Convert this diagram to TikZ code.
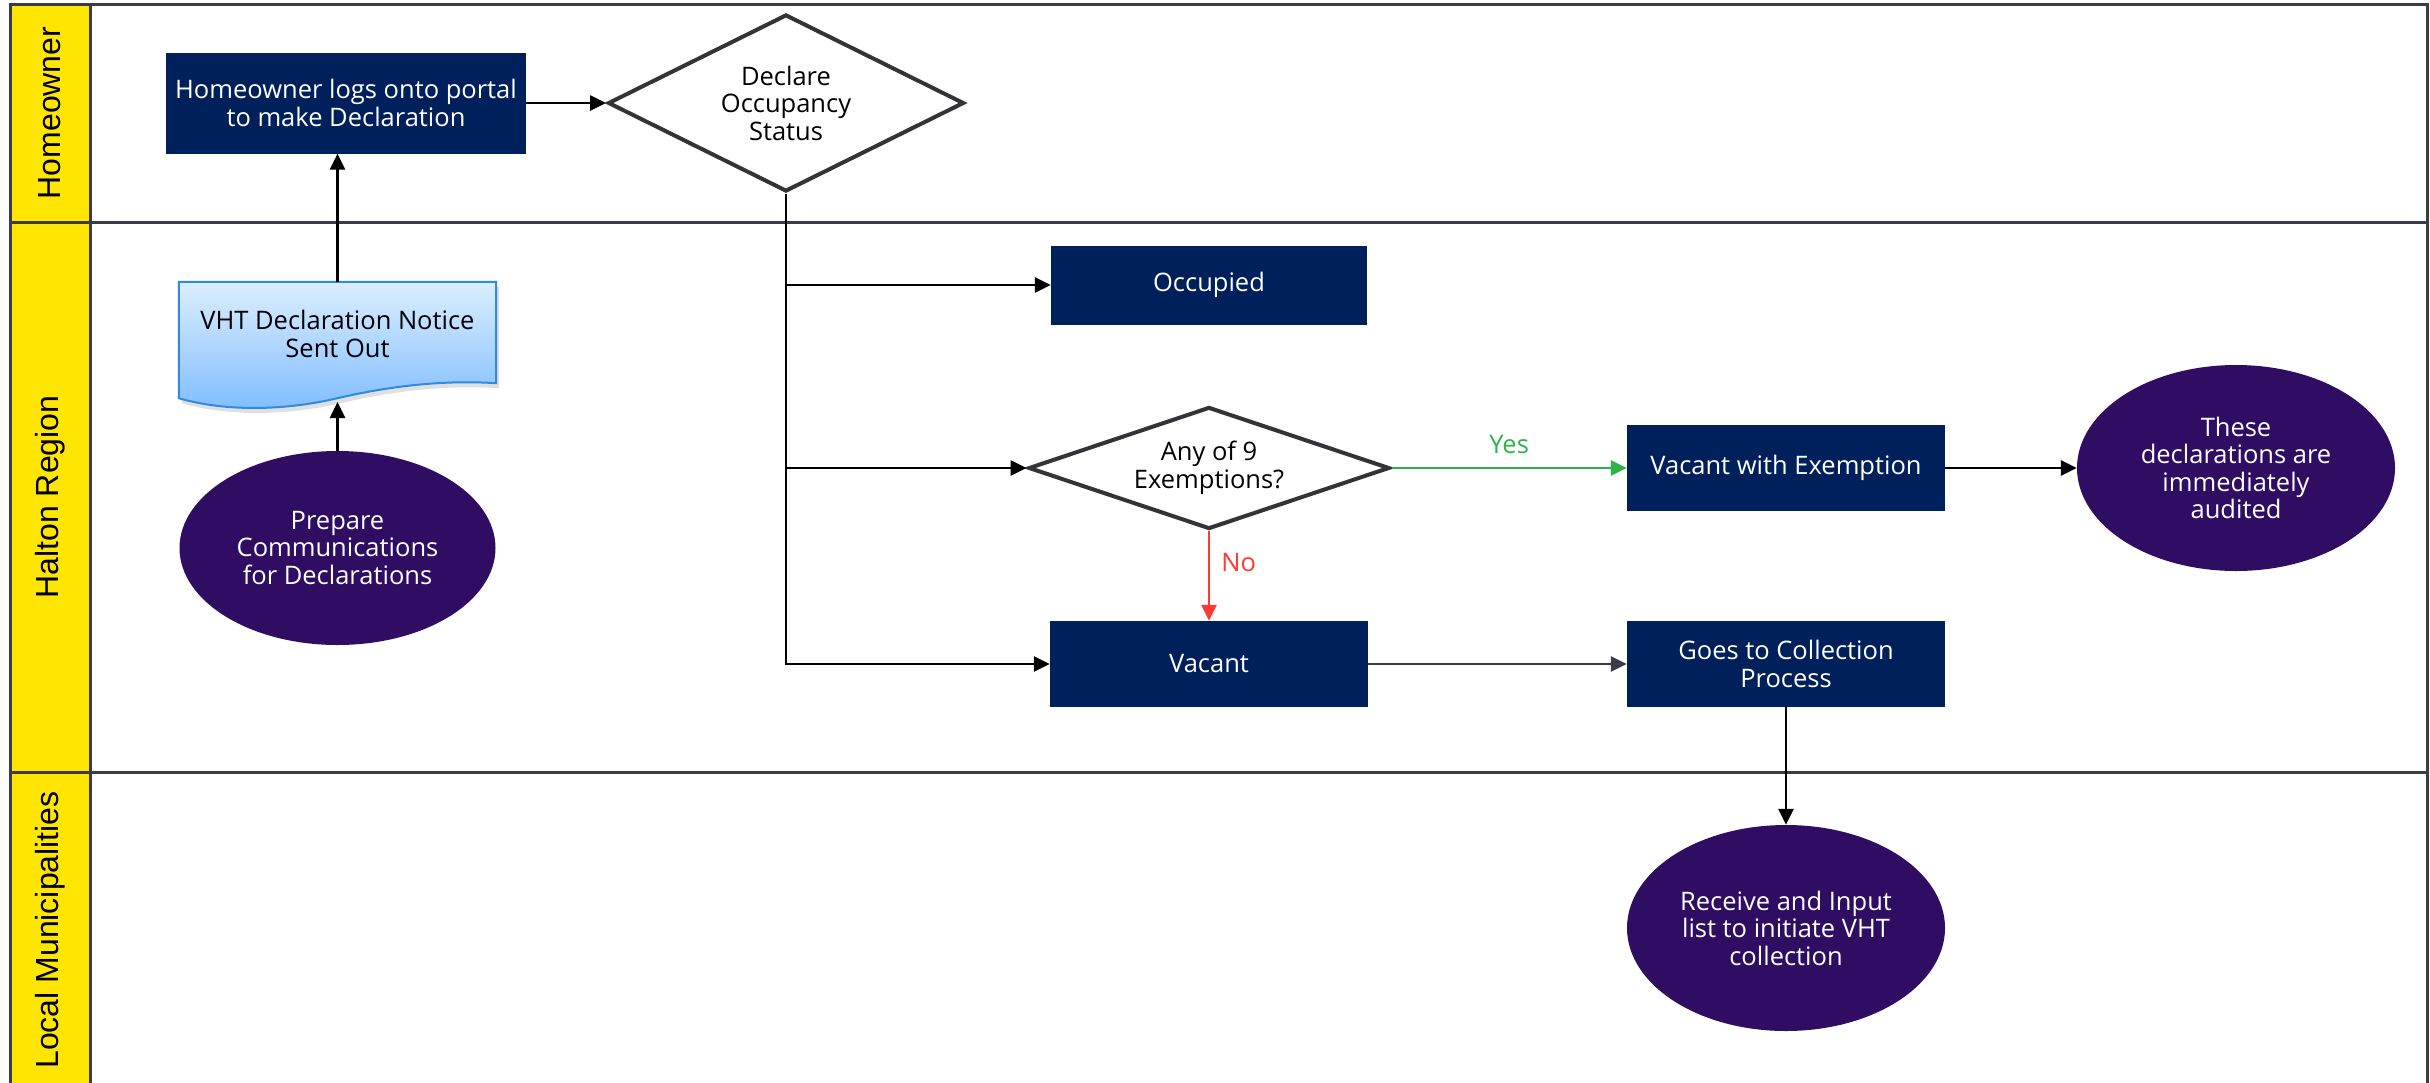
\documentclass[tikz,border=0pt]{standalone}
\usepackage{fontspec}
\setmainfont{Open Sans}
\newfontfamily\lanefont{Liberation Sans}
\usetikzlibrary{arrows.meta,shapes.geometric}
\definecolor{navy}{HTML}{00205B}
\definecolor{grape}{HTML}{2F0D63}
\definecolor{laneyellow}{HTML}{FFE600}
\definecolor{framegray}{HTML}{3C3C46}
\definecolor{diamondline}{HTML}{333338}
\definecolor{yesgreen}{HTML}{2DB34A}
\definecolor{nored}{HTML}{FF3B30}
\definecolor{docblue}{HTML}{2F8AE0}
\definecolor{doctopc}{HTML}{DCEEFF}
\definecolor{docbotc}{HTML}{7FBDFF}
\newcommand\boxtextfont{\fontsize{25.5}{27.5}\selectfont}
\begin{document}
\begin{tikzpicture}[x=1pt,y=-1pt,
  lanelabel/.style={rotate=90, font=\lanefont\fontsize{32}{36}\selectfont, text=black, inner sep=0pt},
  procbox/.style={rectangle, fill=navy, text=white, align=center, inner sep=0pt, font=\boxtextfont},
  termnode/.style={ellipse, fill=grape, text=white, align=center, inner sep=0pt, font=\boxtextfont},
  decision/.style={diamond, draw=diamondline, line width=4pt, fill=white, align=center, inner sep=0pt, font=\boxtextfont},
  flow/.style={line width=2.6pt, -{Triangle[length=16pt,width=15pt]}},
  lanerule/.style={draw=framegray, line width=3pt},
  edgelabel/.style={font=\boxtextfont, inner sep=0pt}
]
\useasboundingbox (0,0) rectangle (2430,1082);
\clip (0,0) rectangle (2430,1082);
\fill[white] (0,0) rectangle (2430,1082);

% swimlanes
\fill[laneyellow] (10,4) rectangle (90,1100);
\draw[lanerule] (2427,1100) -- (2427,4) -- (10,4) -- (10,1100);
\draw[lanerule] (90,4) -- (90,1100);
\draw[lanerule] (10,222) -- (2427,222);
\draw[lanerule] (10,772) -- (2427,772);

\node[lanelabel] (laneA) at (50,113) {Homeowner};
\node[lanelabel] (laneB) at (50,497) {Halton Region};
\node[lanelabel] (laneC) at (50,930) {Local Municipalities};

% nodes
\node[procbox, minimum width=360pt, minimum height=101pt] (home) at (346,103) {Homeowner logs onto portal\\to make Declaration};
\node[decision, minimum width=356pt, minimum height=177pt, aspect=2] (declare) at (786,103) {Declare\\Occupancy\\Status};

% document shape
\node[minimum width=317pt, minimum height=101pt, inner sep=0pt] (doc) at (337.5,332.5) {};
\fill[black!22, opacity=0.55] ([shift={(3,5)}]doc.north west) -- ([shift={(3,5)}]doc.north east) -- ([shift={(3,5)}]doc.south east)
  .. controls +(-46,-3) and +(60,-14) .. ([shift={(3,20)}]doc.south) .. controls +(-60,14) and +(41,12) .. ([shift={(3,20)}]doc.south west) -- cycle;
\shade[top color=doctopc, bottom color=docbotc] (doc.north west) -- (doc.north east) -- (doc.south east)
  .. controls +(-46,-3) and +(60,-14) .. ([shift={(0,15)}]doc.south) .. controls +(-60,14) and +(41,12) .. ([shift={(0,15)}]doc.south west) -- cycle;
\draw[docblue, line width=2pt] (doc.north west) -- (doc.north east) -- (doc.south east)
  .. controls +(-46,-3) and +(60,-14) .. ([shift={(0,15)}]doc.south) .. controls +(-60,14) and +(41,12) .. ([shift={(0,15)}]doc.south west) -- cycle;
\node[font=\boxtextfont, align=center, inner sep=0pt] (doctext) at (337.5,334) {VHT Declaration Notice\\Sent Out};
\coordinate (docbottom) at (337.5,402);

\node[termnode, minimum width=316pt, minimum height=194pt] (prep) at (337.5,548) {Prepare\\Communications\\for Declarations};

\node[procbox, minimum width=316pt, minimum height=79pt] (occ) at (1209,285) {Occupied};
\node[decision, minimum width=361pt, minimum height=122pt, aspect=3] (exempt) at (1209,468) {Any of 9\\Exemptions?};
\node[procbox, minimum width=318pt, minimum height=86pt] (vwe) at (1786,468) {Vacant with Exemption};
\node[termnode, minimum width=318pt, minimum height=206pt] (audit) at (2236,468) {These\\declarations are\\immediately\\audited};
\node[procbox, minimum width=318pt, minimum height=86pt] (vac) at (1209,664) {Vacant};
\node[procbox, minimum width=318pt, minimum height=86pt] (goes) at (1786,664) {Goes to Collection\\Process};
\node[termnode, minimum width=318pt, minimum height=206pt] (recv) at (1786,928) {Receive and Input\\list to initiate VHT\\collection};

% connectors
\draw[flow] (home.east) -- (declare.west);
\draw[flow] (doc.north) -- (doc.north |- home.south);
\draw[flow] (prep.north) -- (docbottom);
\draw[flow] (declare.south) |- (occ.west);
\draw[flow] (declare.south) |- (exempt.west);
\draw[flow] (declare.south) |- (vac.west);
\draw[flow, yesgreen] (exempt.east) -- node[edgelabel, above=13pt, text=yesgreen] (yeslbl) {Yes} (vwe.west);
\draw[flow, nored] (exempt.south) -- node[edgelabel, pos=0.35, right=11pt, text=nored] (nolbl) {No} (vac.north);
\draw[flow] (vwe.east) -- (audit.west);
\draw[flow, draw=framegray, fill=framegray] (vac.east) -- (goes.west);
\draw[flow] (goes.south) -- (recv.north);
\end{tikzpicture}
\end{document}
